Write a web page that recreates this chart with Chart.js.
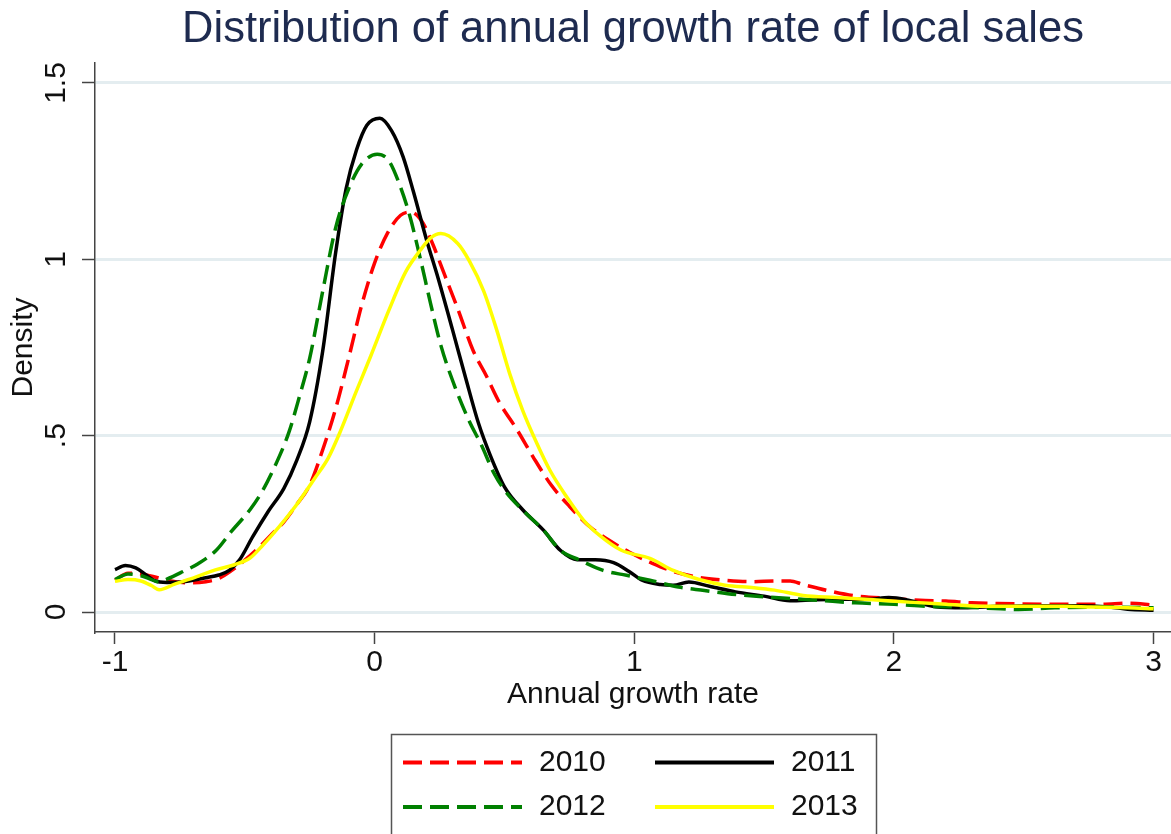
<!DOCTYPE html>
<html>
<head>
<meta charset="utf-8">
<script src="https://cdn.jsdelivr.net/npm/chart.js@4.4.1/dist/chart.umd.min.js"></script>
<style>
  html, body { margin: 0; padding: 0; background: #ffffff; }
  #wrap { width: 1171px; height: 834px; }
</style>
</head>
<body>
<div id="wrap"><canvas id="c" width="1171" height="834"></canvas></div>
<script>
// ---- Data ----
const seriesLabels = ['2010', '2011', '2012', '2013'];

const x2010 = [-1.0,-0.95,-0.9,-0.85,-0.8,-0.75,-0.7,-0.65,-0.6,-0.55,-0.5,-0.45,-0.4,-0.35,-0.3,-0.25,-0.2,-0.15,-0.1,-0.05,0,0.05,0.1,0.14,0.18,0.22,0.27,0.32,0.38,0.43,0.48,0.55,0.61,0.68,0.75,0.83,0.9,0.98,1.07,1.15,1.25,1.35,1.45,1.55,1.6,1.65,1.75,1.85,2.0,2.1,2.2,2.3,2.4,2.6,2.8,2.9,3.0];
const y2010 = [0.09,0.11,0.108,0.1,0.09,0.084,0.083,0.086,0.095,0.118,0.147,0.18,0.218,0.255,0.305,0.36,0.46,0.577,0.72,0.87,0.99,1.075,1.125,1.134,1.11,1.05,0.955,0.86,0.74,0.67,0.595,0.515,0.44,0.36,0.3,0.241,0.205,0.17,0.138,0.115,0.098,0.09,0.086,0.088,0.088,0.078,0.06,0.046,0.038,0.033,0.031,0.026,0.024,0.022,0.022,0.025,0.02];

const x2011 = [-1.0,-0.96,-0.92,-0.88,-0.85,-0.8,-0.75,-0.7,-0.65,-0.6,-0.56,-0.52,-0.47,-0.41,-0.35,-0.3,-0.25,-0.2,-0.15,-0.11,-0.07,-0.03,0.02,0.065,0.11,0.15,0.2,0.245,0.3,0.35,0.4,0.445,0.5,0.57,0.65,0.715,0.78,0.85,0.92,0.98,1.03,1.1,1.15,1.21,1.29,1.39,1.5,1.6,1.7,1.8,1.9,1.98,2.06,2.16,2.27,2.4,2.55,2.7,2.83,2.9,3.0];
const y2011 = [0.12,0.132,0.125,0.105,0.09,0.084,0.085,0.09,0.097,0.105,0.118,0.148,0.213,0.285,0.35,0.43,0.54,0.74,1.02,1.2,1.31,1.38,1.40,1.365,1.29,1.19,1.055,0.945,0.80,0.665,0.535,0.445,0.355,0.29,0.232,0.175,0.148,0.148,0.14,0.115,0.09,0.078,0.076,0.085,0.073,0.057,0.045,0.032,0.035,0.036,0.036,0.041,0.033,0.015,0.012,0.016,0.018,0.018,0.014,0.008,0.005];

const x2012 = [-1.0,-0.95,-0.9,-0.86,-0.83,-0.8,-0.74,-0.68,-0.61,-0.55,-0.48,-0.43,-0.38,-0.33,-0.29,-0.25,-0.2,-0.15,-0.1,-0.05,0.01,0.055,0.095,0.135,0.175,0.215,0.255,0.31,0.365,0.41,0.46,0.51,0.57,0.65,0.715,0.79,0.88,0.97,1.06,1.17,1.27,1.36,1.47,1.6,1.71,1.85,2.0,2.13,2.27,2.41,2.48,2.62,2.83,3.0];
const y2012 = [0.092,0.108,0.103,0.092,0.085,0.093,0.114,0.137,0.175,0.23,0.29,0.346,0.42,0.51,0.61,0.72,0.91,1.09,1.2,1.27,1.298,1.279,1.214,1.124,1.005,0.876,0.756,0.637,0.54,0.475,0.393,0.336,0.289,0.232,0.175,0.147,0.118,0.104,0.09,0.071,0.061,0.052,0.045,0.038,0.033,0.026,0.022,0.016,0.014,0.009,0.007,0.012,0.014,0.012];

const x2013 = [-1.0,-0.95,-0.9,-0.86,-0.83,-0.77,-0.69,-0.61,-0.54,-0.48,-0.43,-0.37,-0.3,-0.23,-0.18,-0.135,-0.07,-0.015,0.055,0.12,0.175,0.215,0.255,0.32,0.365,0.42,0.47,0.52,0.57,0.625,0.675,0.74,0.805,0.87,0.95,1.06,1.15,1.25,1.35,1.46,1.54,1.65,1.78,1.92,2.06,2.2,2.34,2.5,2.65,2.76,2.9,3.0];
const y2013 = [0.087,0.092,0.088,0.075,0.063,0.079,0.099,0.12,0.134,0.153,0.19,0.24,0.305,0.38,0.435,0.507,0.627,0.726,0.856,0.965,1.025,1.06,1.073,1.045,0.995,0.91,0.80,0.676,0.572,0.478,0.402,0.326,0.26,0.215,0.175,0.152,0.118,0.092,0.076,0.069,0.062,0.047,0.041,0.035,0.028,0.022,0.016,0.016,0.016,0.014,0.012,0.009];

const xTickValues = [-1, 0, 1, 2, 3];
const xTickLabels = ['-1', '0', '1', '2', '3'];
const yTickValues = [0, 0.5, 1, 1.5];
const yTickLabels = ['0', '.5', '1', '1.5'];

// ---- Styling ----
const FONT = "'Liberation Sans', Arial, Helvetica, sans-serif";
Chart.defaults.font.family = FONT;

function pts(xs, ys) { return xs.map((x, i) => ({ x: x, y: ys[i] })); }

const boxLegend = {
  id: 'boxLegend',
  afterDraw(chart) {
    const ctx = chart.ctx;
    ctx.save();
    ctx.strokeStyle = '#555555';
    ctx.lineWidth = 1.5;
    ctx.strokeRect(391.5, 734.5, 485, 140);
    const cols = [403, 655];
    const rows = [762.5, 807];
    chart.data.datasets.forEach((ds, i) => {
      const cx = cols[i % 2];
      const cy = rows[Math.floor(i / 2)];
      ctx.beginPath();
      ctx.setLineDash(ds.borderDash || []);
      ctx.strokeStyle = ds.borderColor;
      ctx.lineWidth = 4;
      ctx.lineCap = 'butt';
      ctx.moveTo(cx, cy);
      ctx.lineTo(cx + 119, cy);
      ctx.stroke();
      ctx.setLineDash([]);
      ctx.fillStyle = '#111111';
      ctx.font = '30px ' + FONT;
      ctx.textBaseline = 'middle';
      ctx.textAlign = 'left';
      ctx.fillText(ds.label, cx + 136, cy);
    });
    ctx.restore();
  }
};

const white = {
  id: 'whiteBg',
  beforeDraw(chart) {
    const ctx = chart.ctx;
    ctx.save();
    ctx.fillStyle = '#ffffff';
    ctx.fillRect(0, 0, chart.width, chart.height);
    ctx.restore();
  }
};

const seriesX = [x2010, x2011, x2012, x2013];
const seriesY = [y2010, y2011, y2012, y2013];
const colors = ['#ff0000', '#000000', '#008000', '#ffff00'];
const dashes = [[19, 8], [], [19, 8], []];
const orders = [3, 2, 1, 0];

const datasets = seriesLabels.map((lab, i) => ({
  label: lab,
  data: pts(seriesX[i], seriesY[i]),
  borderColor: colors[i],
  backgroundColor: colors[i],
  borderWidth: 3.5,
  borderDash: dashes[i],
  pointRadius: 0,
  fill: false,
  cubicInterpolationMode: 'monotone',
  order: orders[i]
}));

new Chart(document.getElementById('c'), {
  type: 'line',
  data: { datasets: datasets },
  options: {
    responsive: false,
    devicePixelRatio: 1,
    animation: false,
    events: [],
    layout: { padding: { left: 0, right: 0, top: 0, bottom: 121 }, autoPadding: false },
    plugins: {
      legend: { display: false },
      tooltip: { enabled: false },
      title: {
        display: true,
        fullSize: false,
        text: 'Distribution of annual growth rate of local sales',
        color: '#1e2b50',
        font: { family: FONT, size: 43.5, weight: 'normal' },
        padding: { top: 4, bottom: 6.8 }
      }
    },
    scales: {
      x: {
        type: 'linear',
        min: -1.077,
        max: 3.067,
        afterBuildTicks: s => { s.ticks = xTickValues.map(v => ({ value: v })); },
        afterFit: s => { s.height = 81; },
        grid: { drawOnChartArea: false, drawTicks: true, tickLength: 12, tickColor: '#444444', tickWidth: 1.5 },
        border: { display: true, color: '#444444', width: 1.5 },
        ticks: {
          autoSkip: false, minRotation: 0, maxRotation: 0, padding: 1,
          color: '#111111', font: { family: FONT, size: 30 },
          callback: (v, i) => xTickLabels[i]
        },
        title: { display: true, text: 'Annual growth rate', color: '#111111', font: { family: FONT, size: 30 }, padding: 0 }
      },
      y: {
        type: 'linear',
        min: -0.0567,
        max: 1.5567,
        afterBuildTicks: s => { s.ticks = yTickValues.map(v => ({ value: v })); },
        afterFit: s => { s.width = 95; },
        grid: { color: '#e4edf0', lineWidth: 3, drawTicks: true, tickLength: 13, tickColor: '#444444', tickWidth: 1.5 },
        border: { display: true, color: '#444444', width: 1.5 },
        ticks: {
          autoSkip: false, minRotation: 90, maxRotation: 90, padding: 4, crossAlign: 'center',
          color: '#111111', font: { family: FONT, size: 30 },
          callback: (v, i) => yTickLabels[i]
        },
        title: { display: true, text: 'Density', color: '#111111', font: { family: FONT, size: 30 }, padding: { top: 6, bottom: 0 } }
      }
    }
  },
  plugins: [white, boxLegend]
});
</script>
</body>
</html>
